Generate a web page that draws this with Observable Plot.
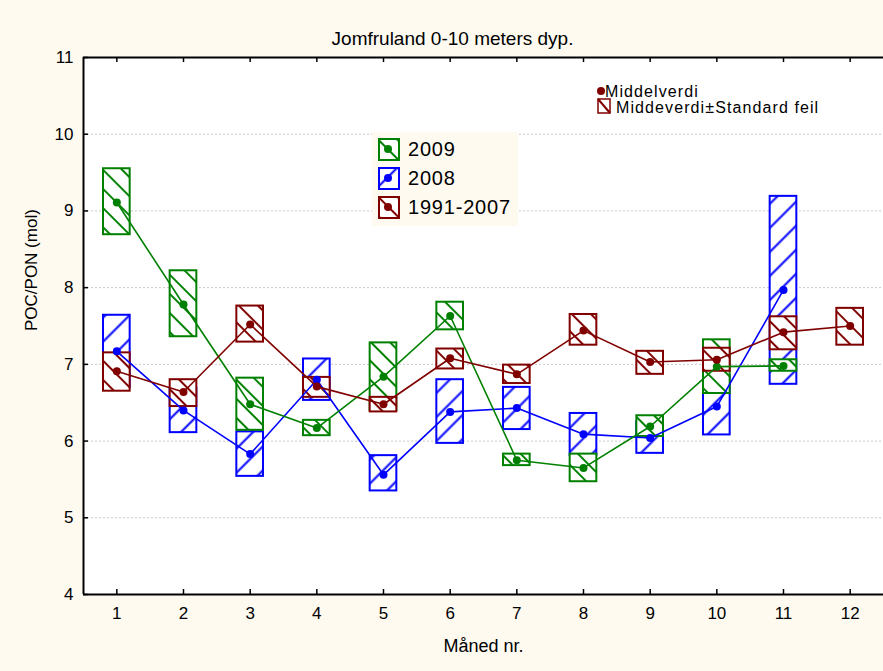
<!DOCTYPE html>
<html><head><meta charset="utf-8">
<script src="https://cdn.jsdelivr.net/npm/d3@7"></script>
<script src="https://cdn.jsdelivr.net/npm/@observablehq/plot@0.6"></script>
<style>
html,body{margin:0;padding:0;background:#fefaf0;}
#chart{width:883px;height:671px;}
</style></head><body><div id="chart"></div>
<script>
// ---- data ----
const months = [1,2,3,4,5,6,7,8,9,10,11,12];
const xTickLabels = ["1","2","3","4","5","6","7","8","9","10","11","12"];
const yTicks = [4,5,6,7,8,9,10,11];
const yTickLabels = ["4","5","6","7","8","9","10","11"];
const gridY = [5,6,7,8,9,10];

const seriesNames = ["2009","2008","1991-2007"];
const seriesColors = ["#008000","#0000ff","#800000"];

const months2009 = [1,2,3,4,5,6,7,8,9,10,11];
const mean2009 = [9.11,7.78,6.48,6.17,6.84,7.63,5.75,5.65,6.19,6.97,6.98];
const lo2009   = [8.69,7.36,6.14,6.07,6.40,7.45,5.68,5.47,6.06,6.62,6.91];
const hi2009   = [9.55,8.22,6.82,6.27,7.28,7.81,5.83,5.83,6.33,7.32,7.06];

const months2008 = [1,2,3,4,5,6,7,8,9,10,11];
const mean2008 = [7.17,6.40,5.83,6.80,5.56,6.38,6.43,6.09,6.04,6.45,7.97];
const lo2008   = [6.70,6.11,5.54,6.53,5.35,5.97,6.15,5.81,5.84,6.08,6.74];
const hi2008   = [7.64,6.69,6.12,7.07,5.81,6.80,6.70,6.36,6.25,6.85,9.19];

const monthsHist = [1,2,3,4,5,6,7,8,9,10,11,12];
const meanHist = [6.91,6.64,7.52,6.71,6.48,7.08,6.87,7.44,7.03,7.06,7.42,7.50];
const loHist   = [6.65,6.45,7.29,6.57,6.38,6.94,6.75,7.25,6.87,6.91,7.19,7.25];
const hiHist   = [7.15,6.80,7.76,6.83,6.57,7.20,6.99,7.65,7.17,7.21,7.62,7.73];

const titleText = "Jomfruland 0-10 meters dyp.";
const xLabel = "Måned nr.";
const yLabel = "POC/PON (mol)";
const legendMean = "Middelverdi";
const legendBox = "Middeverdi±Standard feil";

// ---- build tables ----
function rows(ms, mean, lo, hi) {
  return ms.map((m, i) => ({month: m, mean: mean[i], lo: lo[i], hi: hi[i]}));
}
const r2009 = rows(months2009, mean2009, lo2009, hi2009);
const r2008 = rows(months2008, mean2008, lo2008, hi2008);
const rHist = rows(monthsHist, meanHist, loHist, hiHist);

const G = seriesColors[0], B = seriesColors[1], R = seriesColors[2];
const halfW = 0.2;

function boxMarks(data, color, pat) {
  return [
    Plot.rect(data, {x1: d => d.month - halfW, x2: d => d.month + halfW, y1: "lo", y2: "hi", fill: "white"}),
    Plot.rect(data, {x1: d => d.month - halfW, x2: d => d.month + halfW, y1: "lo", y2: "hi", fill: `url(#${pat})`, stroke: color, strokeWidth: 2})
  ];
}
function lineMarks(data, color) {
  return [
    Plot.line(data, {x: "month", y: "mean", stroke: color, strokeWidth: 1.6}),
    Plot.dot(data, {x: "month", y: "mean", r: 4, fill: color, stroke: "none"})
  ];
}

const FONT = "'Liberation Sans', Arial, sans-serif";
const W = 883, H = 671, mL = 83, mR = 0, mT = 57, mB = 77;
const plotH = H - mT - mB, plotW = W - mL - mR;

const chart = Plot.plot({
  width: W, height: H,
  marginLeft: mL, marginRight: mR, marginTop: mT, marginBottom: mB,
  style: {background: "transparent", fontFamily: FONT, fontSize: "16px", color: "black", overflow: "visible"},
  x: {type: "linear", domain: [0.5, 12.5]},
  y: {type: "linear", domain: [4, 11]},
  marks: [
    Plot.frame({fill: "white", stroke: "none"}),
    Plot.ruleY(gridY, {stroke: "#c8c8c8", strokeWidth: 1, strokeDasharray: "2,2"}),
    ...boxMarks(r2008, B, "hatchBlue"),
    ...boxMarks(r2009, G, "hatchGreen"),
    ...boxMarks(rHist, R, "hatchRed"),
    ...lineMarks(r2008, B),
    ...lineMarks(r2009, G),
    ...lineMarks(rHist, R),
    // inward ticks
    Plot.tickX(months, {x: d => d, insetTop: plotH - 5, stroke: "black", strokeWidth: 1.5}),
    Plot.tickX(months, {x: d => d, insetBottom: plotH - 5, stroke: "black", strokeWidth: 1.5}),
    Plot.tickY(yTicks, {y: d => d, insetRight: plotW - 5, stroke: "black", strokeWidth: 1.5}),
    // axis lines: left, bottom, top
    Plot.ruleX([0.5], {stroke: "black", strokeWidth: 2}),
    Plot.ruleY([4, 11], {stroke: "black", strokeWidth: 2}),
    Plot.axisX(months, {anchor: "bottom", tickSize: 0, tickPadding: 12, fontSize: 17, tickFormat: (d, i) => xTickLabels[i], label: null}),
    Plot.axisY(yTicks, {anchor: "left", tickSize: 0, tickPadding: 10, fontSize: 17, tickFormat: (d, i) => yTickLabels[i], label: null}),
    Plot.text([xLabel], {text: d => d, frameAnchor: "bottom", dy: 57, fontSize: 18, fill: "black"}),
    Plot.text([yLabel], {text: d => d, frameAnchor: "left", rotate: -90, dx: -52, dy: 5, fontSize: 17, fill: "black"}),
    Plot.text([titleText], {text: d => d, frameAnchor: "top", dy: -26, dx: -31, fontSize: 19, fill: "black"})
  ]
});

const svg = d3.select(chart);
const defs = svg.insert("defs", ":first-child");
function addPattern(id, color, angle, spacing) {
  const p = defs.append("pattern").attr("id", id)
    .attr("patternUnits", "userSpaceOnUse")
    .attr("width", spacing).attr("height", spacing)
    .attr("patternTransform", `rotate(${angle})`);
  p.append("line").attr("x1", spacing / 2).attr("y1", -1).attr("x2", spacing / 2).attr("y2", spacing + 1)
    .attr("stroke", color).attr("stroke-width", 2);
}
addPattern("hatchGreen", G, -45, 13.5);
addPattern("hatchRed", R, -45, 13.5);
addPattern("hatchBlue", B, 45, 17);

// ---- series legend ----
const lg = svg.append("g").attr("font-family", FONT).attr("text-anchor", "start");
lg.append("rect").attr("x", 372).attr("y", 132).attr("width", 146).attr("height", 94).attr("fill", "#fefaf0");
const pats = ["hatchGreen", "hatchBlue", "hatchRed"];
seriesNames.forEach((name, i) => {
  const cy = 149 + i * 29;
  lg.append("rect").attr("x", 379).attr("y", cy - 10).attr("width", 20).attr("height", 21).attr("fill", "white");
  lg.append("rect").attr("x", 379).attr("y", cy - 10).attr("width", 20).attr("height", 21)
    .attr("fill", `url(#${pats[i]})`).attr("stroke", seriesColors[i]).attr("stroke-width", 2);
  lg.append("circle").attr("cx", 388).attr("cy", cy).attr("r", 4).attr("fill", seriesColors[i]);
  lg.append("text").attr("x", 408).attr("y", cy).attr("dy", "0.35em").attr("font-size", 20).attr("letter-spacing", 0.8).text(name);
});

// ---- stat legend ----
const lg2 = svg.append("g").attr("font-family", FONT).attr("font-size", 16).attr("text-anchor", "start");
lg2.append("circle").attr("cx", 601).attr("cy", 91).attr("r", 4).attr("fill", R);
lg2.append("text").attr("x", 605).attr("y", 91).attr("dy", "0.35em").attr("letter-spacing", 1.1).text(legendMean);
lg2.append("rect").attr("x", 598).attr("y", 99).attr("width", 12).attr("height", 14).attr("fill", "white").attr("stroke", R).attr("stroke-width", 1.5);
lg2.append("line").attr("x1", 598).attr("y1", 99).attr("x2", 610).attr("y2", 113).attr("stroke", R).attr("stroke-width", 2);
lg2.append("text").attr("x", 616).attr("y", 107).attr("dy", "0.35em").attr("letter-spacing", 1.1).text(legendBox);

document.getElementById("chart").appendChild(chart);
</script>
</body></html>
